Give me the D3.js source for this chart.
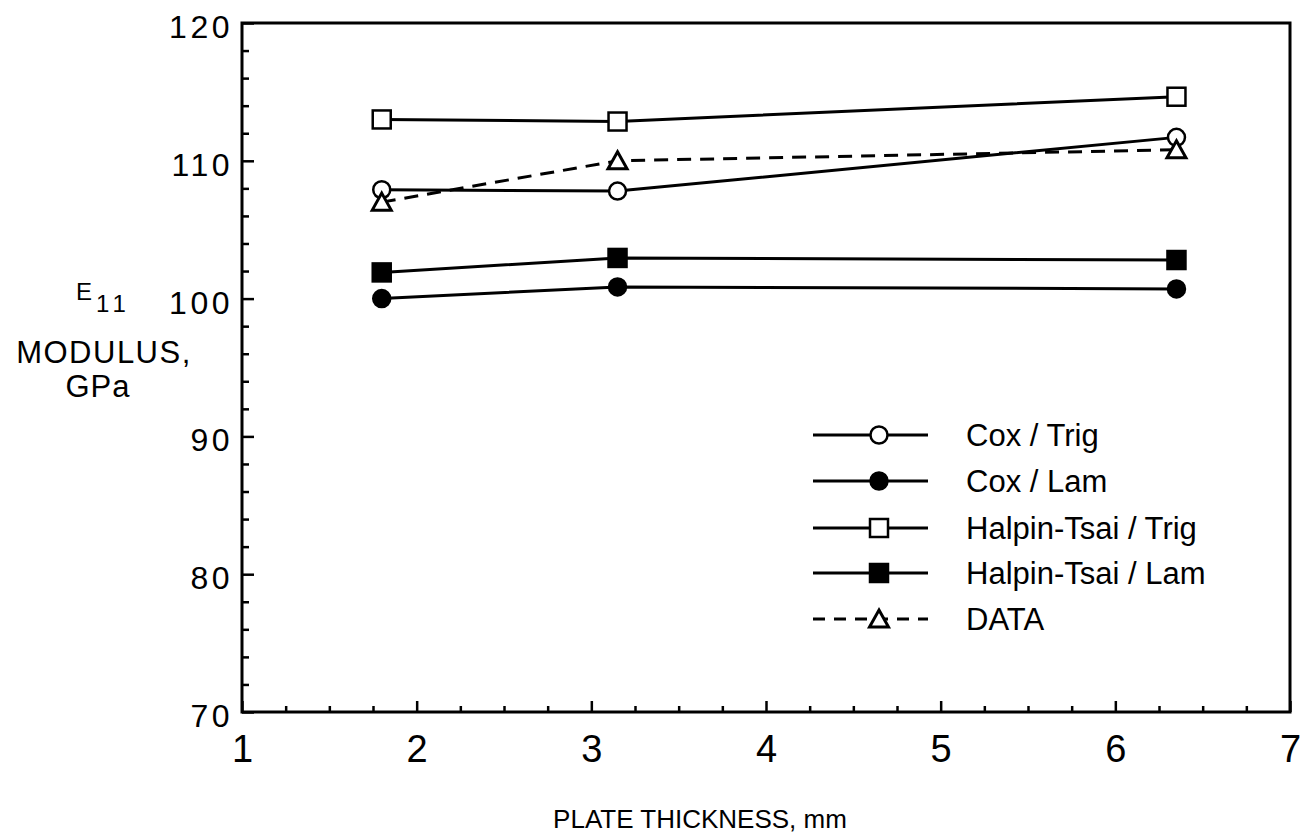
<!DOCTYPE html>
<html>
<head>
<meta charset="utf-8">
<script src="https://cdn.jsdelivr.net/npm/d3@7.9.0/dist/d3.min.js"></script>
<style>
  html, body { margin: 0; padding: 0; background: #fff; }
  svg { display: block; font-family: 'Liberation Sans', Arial, sans-serif; }
</style>
</head>
<body>
<div id="chart"></div>
<script>
// plate thickness (mm) and E11 modulus (GPa)
const thickness = [1.8, 3.15, 6.35];
const coxTrig = [107.9, 107.8, 111.7];
const coxLam = [100.0, 100.85, 100.7];
const halpinTrig = [113.0, 112.85, 114.65];
const halpinLam = [101.9, 102.95, 102.8];
const measured = [107.0, 110.0, 110.8];

const xTicks = [1, 2, 3, 4, 5, 6, 7];
const yTicks = [70, 80, 90, 100, 110, 120];

const series = [
  { name: 'Cox / Trig', values: coxTrig, marker: 'circle', filled: false, dashed: false },
  { name: 'Cox / Lam', values: coxLam, marker: 'circle', filled: true, dashed: false },
  { name: 'Halpin-Tsai / Trig', values: halpinTrig, marker: 'square', filled: false, dashed: false },
  { name: 'Halpin-Tsai / Lam', values: halpinLam, marker: 'square', filled: true, dashed: false },
  { name: 'DATA', values: measured, marker: 'triangle', filled: false, dashed: true },
];

const width = 1300;
const height = 838;
const margin = { top: 23, right: 10, bottom: 126, left: 242 };

const svg = d3.select('#chart')
  .append('svg')
  .attr('width', width)
  .attr('height', height);

const xScale = d3.scaleLinear()
  .domain([1, 7])
  .range([margin.left, width - margin.right]);

const yScale = d3.scaleLinear()
  .domain([70, 120])
  .range([height - margin.bottom, margin.top]);

// minor ticks (inward, short)
const xMinor = d3.range(1, 7.001, 0.25).filter(d => Math.abs(d - Math.round(d)) > 0.01);
const yMinor = d3.range(70, 120.001, 2).filter(d => d % 10 !== 0);

svg.append('g')
  .attr('transform', `translate(0, ${yScale(70)})`)
  .call(d3.axisBottom(xScale).tickValues(xMinor).tickSize(-6).tickFormat(''))
  .call(g => g.select('.domain').remove())
  .call(g => g.selectAll('line').attr('stroke-width', 2.5));

svg.append('g')
  .attr('transform', `translate(${xScale(1)}, 0)`)
  .call(d3.axisLeft(yScale).tickValues(yMinor).tickSize(-7).tickFormat(''))
  .call(g => g.select('.domain').remove())
  .call(g => g.selectAll('line').attr('stroke-width', 2.5));

// major ticks + labels
svg.append('g')
  .attr('transform', `translate(0, ${yScale(70)})`)
  .call(d3.axisBottom(xScale).tickValues(xTicks).tickSize(-11).tickPadding(0).tickFormat(d3.format('d')))
  .call(g => g.select('.domain').remove())
  .call(g => g.selectAll('line').attr('stroke-width', 2.5))
  .call(g => g.selectAll('text')
    .attr('y', 50)
    .attr('dy', null)
    .attr('font-size', 38)
    .attr('font-family', "'Liberation Sans', Arial, sans-serif")
    .attr('fill', '#000'));

svg.append('g')
  .attr('transform', `translate(${xScale(1)}, 0)`)
  .call(d3.axisLeft(yScale).tickValues(yTicks).tickSize(-12).tickFormat(d3.format('d')))
  .call(g => g.select('.domain').remove())
  .call(g => g.selectAll('line').attr('stroke-width', 2.5))
  .call(g => g.selectAll('text')
    .attr('x', -9)
    .attr('dy', null)
    .attr('y', 14.5)
    .attr('font-size', 32)
    .attr('letter-spacing', 3.5)
    .attr('font-family', "'Liberation Sans', Arial, sans-serif")
    .attr('fill', '#000'));

// frame
svg.append('rect')
  .attr('x', xScale(1))
  .attr('y', yScale(120))
  .attr('width', xScale(7) - xScale(1))
  .attr('height', yScale(70) - yScale(120))
  .attr('fill', 'none')
  .attr('stroke', '#000')
  .attr('stroke-width', 3);

function drawMarker(g, type, filled, x, y) {
  const fill = filled ? '#000' : '#fff';
  if (type === 'circle') {
    g.append('circle').attr('cx', x).attr('cy', y).attr('r', 8.5)
      .attr('fill', fill).attr('stroke', '#000').attr('stroke-width', 2.5);
  } else if (type === 'square') {
    g.append('rect').attr('x', x - 9).attr('y', y - 9).attr('width', 18).attr('height', 18)
      .attr('fill', fill).attr('stroke', '#000').attr('stroke-width', 2.5);
  } else {
    g.append('path')
      .attr('d', `M${x},${y - 9}L${x + 9.5},${y + 8}L${x - 9.5},${y + 8}Z`)
      .attr('fill', fill).attr('stroke', '#000').attr('stroke-width', 3)
      .attr('stroke-linejoin', 'miter');
  }
}

const line = d3.line()
  .x((d, i) => xScale(thickness[i]))
  .y(d => yScale(d));

const plot = svg.append('g').attr('class', 'series');

series.forEach(s => {
  plot.append('path')
    .attr('d', line(s.values))
    .attr('fill', 'none')
    .attr('stroke', '#000')
    .attr('stroke-width', 3)
    .attr('stroke-dasharray', s.dashed ? '14,9' : null);
});

series.forEach(s => {
  s.values.forEach((v, i) => drawMarker(plot, s.marker, s.filled, xScale(thickness[i]), yScale(v)));
});

// legend
const legend = svg.append('g').attr('class', 'legend');
const legendRows = [435, 481, 528, 573, 619];
series.forEach((s, i) => {
  const y = legendRows[i];
  legend.append('line')
    .attr('x1', 813).attr('x2', 928)
    .attr('y1', y).attr('y2', y)
    .attr('stroke', '#000')
    .attr('stroke-width', 3)
    .attr('stroke-dasharray', s.dashed ? '12,9' : null);
  drawMarker(legend, s.marker, s.filled, 879, y);
  legend.append('text')
    .attr('x', 966)
    .attr('y', y + 11)
    .attr('font-size', 31)
    .text(s.name);
});

// axis titles
svg.append('text')
  .attr('x', 700)
  .attr('y', 828)
  .attr('text-anchor', 'middle')
  .attr('font-size', 26)
  .text('PLATE THICKNESS, mm');

const yTitle = svg.append('g').attr('class', 'y-title');
yTitle.append('text')
  .attr('x', 76)
  .attr('y', 300)
  .attr('font-size', 24)
  .text('E');
yTitle.append('text')
  .attr('x', 96)
  .attr('y', 312)
  .attr('font-size', 24)
  .attr('letter-spacing', 5)
  .text('11');
yTitle.append('text')
  .attr('x', 104)
  .attr('y', 363)
  .attr('text-anchor', 'middle')
  .attr('font-size', 31)
  .attr('letter-spacing', 1.5)
  .text('MODULUS,');
yTitle.append('text')
  .attr('x', 98)
  .attr('y', 397)
  .attr('text-anchor', 'middle')
  .attr('font-size', 31)
  .attr('letter-spacing', 1)
  .text('GPa');
</script>
</body>
</html>
